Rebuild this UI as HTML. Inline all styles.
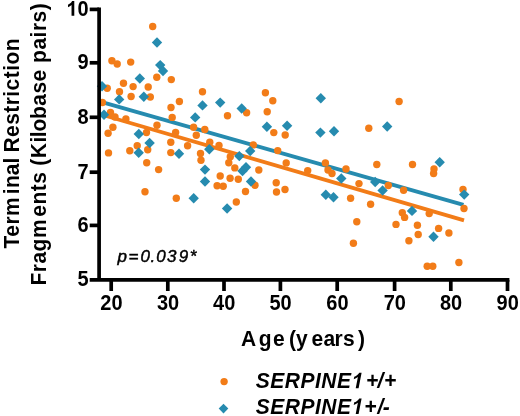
<!DOCTYPE html>
<html><head><meta charset="utf-8"><style>
html,body{margin:0;padding:0;background:#fff;width:520px;height:416px;overflow:hidden;}
svg{display:block;filter:blur(0.4px);}
text{font-family:"Liberation Sans",sans-serif;}
.b{font-weight:bold;font-size:21px;}
.t{font-weight:bold;font-size:20px;}
</style></head><body>
<svg width="520" height="416" viewBox="0 0 520 416">
<rect width="520" height="416" fill="#fff"/>
<line x1="102" y1="102.2" x2="463.5" y2="204.9" stroke="#268baf" stroke-width="3.8"/>
<line x1="102" y1="114.7" x2="464" y2="220.4" stroke="#f27c18" stroke-width="3.8"/>
<g fill="#f27c18"><circle cx="152.7" cy="26.5" r="3.7"/><circle cx="111.9" cy="60.7" r="3.7"/><circle cx="117.2" cy="64" r="3.7"/><circle cx="130.7" cy="62.1" r="3.7"/><circle cx="156.8" cy="77.2" r="3.7"/><circle cx="171.3" cy="79.6" r="3.7"/><circle cx="123.5" cy="83.3" r="3.7"/><circle cx="133.1" cy="86.6" r="3.7"/><circle cx="107.2" cy="88.2" r="3.7"/><circle cx="148.2" cy="87" r="3.7"/><circle cx="119.5" cy="91.8" r="3.7"/><circle cx="131.1" cy="96.5" r="3.7"/><circle cx="150.3" cy="97" r="3.7"/><circle cx="102.4" cy="102.5" r="3.7"/><circle cx="171" cy="107.5" r="3.7"/><circle cx="179.4" cy="101.5" r="3.7"/><circle cx="202.5" cy="91.8" r="3.7"/><circle cx="110.5" cy="112.5" r="3.7"/><circle cx="115" cy="117" r="3.7"/><circle cx="125.9" cy="119" r="3.7"/><circle cx="172.2" cy="117.4" r="3.7"/><circle cx="157" cy="125.2" r="3.7"/><circle cx="112.9" cy="127.3" r="3.7"/><circle cx="108.1" cy="133.3" r="3.7"/><circle cx="146.5" cy="132.5" r="3.7"/><circle cx="175.6" cy="132.4" r="3.7"/><circle cx="170.8" cy="142.3" r="3.7"/><circle cx="187.6" cy="145.8" r="3.7"/><circle cx="147.7" cy="149.7" r="3.7"/><circle cx="170.8" cy="152.6" r="3.7"/><circle cx="137.2" cy="145.7" r="3.7"/><circle cx="129.8" cy="150.8" r="3.7"/><circle cx="108.5" cy="152.9" r="3.7"/><circle cx="146.7" cy="162.7" r="3.7"/><circle cx="158.6" cy="169.6" r="3.7"/><circle cx="145" cy="191.8" r="3.7"/><circle cx="176.3" cy="198.2" r="3.7"/><circle cx="193.6" cy="127.2" r="3.7"/><circle cx="204.8" cy="129.5" r="3.7"/><circle cx="196.3" cy="135.2" r="3.7"/><circle cx="209.8" cy="142.3" r="3.7"/><circle cx="219" cy="145.5" r="3.7"/><circle cx="200.5" cy="153.5" r="3.7"/><circle cx="201" cy="160.3" r="3.7"/><circle cx="230.3" cy="156.8" r="3.7"/><circle cx="228.8" cy="162.7" r="3.7"/><circle cx="234.8" cy="167.9" r="3.7"/><circle cx="253.3" cy="144.9" r="3.7"/><circle cx="258.8" cy="170" r="3.7"/><circle cx="220.2" cy="176" r="3.7"/><circle cx="230.1" cy="178.2" r="3.7"/><circle cx="238.3" cy="179.2" r="3.7"/><circle cx="217.1" cy="185.8" r="3.7"/><circle cx="223.2" cy="186.2" r="3.7"/><circle cx="236.3" cy="202" r="3.7"/><circle cx="245.5" cy="191.5" r="3.7"/><circle cx="246.6" cy="112.8" r="3.7"/><circle cx="227.5" cy="115.8" r="3.7"/><circle cx="265.4" cy="92.8" r="3.7"/><circle cx="272.8" cy="100.8" r="3.7"/><circle cx="267.2" cy="111.8" r="3.7"/><circle cx="273.8" cy="132.6" r="3.7"/><circle cx="285.2" cy="135" r="3.7"/><circle cx="277.7" cy="150.6" r="3.7"/><circle cx="286.2" cy="162.9" r="3.7"/><circle cx="307.7" cy="170.6" r="3.7"/><circle cx="325.4" cy="162.9" r="3.7"/><circle cx="328" cy="170" r="3.7"/><circle cx="332" cy="173.5" r="3.7"/><circle cx="276.2" cy="182.7" r="3.7"/><circle cx="255" cy="185.2" r="3.7"/><circle cx="276.5" cy="192" r="3.7"/><circle cx="285" cy="189.5" r="3.7"/><circle cx="368.8" cy="128.2" r="3.7"/><circle cx="399.1" cy="101.5" r="3.7"/><circle cx="376.8" cy="164.5" r="3.7"/><circle cx="346" cy="169" r="3.7"/><circle cx="359" cy="183.6" r="3.7"/><circle cx="388.3" cy="185.5" r="3.7"/><circle cx="350.6" cy="198.2" r="3.7"/><circle cx="370.6" cy="204.3" r="3.7"/><circle cx="403.6" cy="190.3" r="3.7"/><circle cx="402.3" cy="212.8" r="3.7"/><circle cx="404.6" cy="217.4" r="3.7"/><circle cx="356.8" cy="221.7" r="3.7"/><circle cx="396" cy="224.4" r="3.7"/><circle cx="353.4" cy="243.2" r="3.7"/><circle cx="412.5" cy="164.5" r="3.7"/><circle cx="434" cy="169" r="3.7"/><circle cx="433.6" cy="173.5" r="3.7"/><circle cx="463" cy="189.5" r="3.7"/><circle cx="464" cy="208.5" r="3.7"/><circle cx="417.4" cy="225.3" r="3.7"/><circle cx="418.2" cy="234.5" r="3.7"/><circle cx="438.6" cy="228.4" r="3.7"/><circle cx="448.9" cy="233" r="3.7"/><circle cx="408.9" cy="240.7" r="3.7"/><circle cx="427.2" cy="266.3" r="3.7"/><circle cx="432.8" cy="266.3" r="3.7"/><circle cx="458.9" cy="262.5" r="3.7"/><circle cx="429.2" cy="213.6" r="3.7"/></g>
<g fill="#268baf"><path d="M157.0 37.3L162.2 42.5L157.0 47.7L151.8 42.5Z"/><path d="M160.2 59.9L165.4 65.1L160.2 70.3L155.0 65.1Z"/><path d="M163.0 65.8L168.2 71.0L163.0 76.2L157.8 71.0Z"/><path d="M139.8 73.3L145.0 78.5L139.8 83.7L134.6 78.5Z"/><path d="M102.0 81.0L107.2 86.2L102.0 91.4L96.8 86.2Z"/><path d="M143.8 91.6L149.0 96.8L143.8 102.0L138.6 96.8Z"/><path d="M119.2 94.2L124.4 99.4L119.2 104.6L114.0 99.4Z"/><path d="M104.0 109.6L109.2 114.8L104.0 120.0L98.8 114.8Z"/><path d="M138.8 128.8L144.0 134.0L138.8 139.2L133.6 134.0Z"/><path d="M149.6 137.8L154.8 143.0L149.6 148.2L144.4 143.0Z"/><path d="M138.7 147.5L143.9 152.7L138.7 157.9L133.5 152.7Z"/><path d="M179.0 148.6L184.2 153.8L179.0 159.0L173.8 153.8Z"/><path d="M202.5 100.2L207.7 105.4L202.5 110.6L197.3 105.4Z"/><path d="M220.2 97.4L225.4 102.6L220.2 107.8L215.0 102.6Z"/><path d="M241.7 103.3L246.9 108.5L241.7 113.7L236.5 108.5Z"/><path d="M195.2 112.2L200.4 117.4L195.2 122.6L190.0 117.4Z"/><path d="M209.3 144.0L214.5 149.2L209.3 154.4L204.1 149.2Z"/><path d="M239.3 150.9L244.5 156.1L239.3 161.3L234.1 156.1Z"/><path d="M246.0 162.1L251.2 167.3L246.0 172.5L240.8 167.3Z"/><path d="M242.5 165.8L247.7 171.0L242.5 176.2L237.3 171.0Z"/><path d="M250.2 145.8L255.4 151.0L250.2 156.2L245.0 151.0Z"/><path d="M205.0 164.4L210.2 169.6L205.0 174.8L199.8 169.6Z"/><path d="M205.0 176.3L210.2 181.5L205.0 186.7L199.8 181.5Z"/><path d="M251.0 176.3L256.2 181.5L251.0 186.7L245.8 181.5Z"/><path d="M193.7 193.0L198.9 198.2L193.7 203.4L188.5 198.2Z"/><path d="M227.1 203.3L232.3 208.5L227.1 213.7L221.9 208.5Z"/><path d="M320.8 93.0L326.0 98.2L320.8 103.4L315.6 98.2Z"/><path d="M266.9 121.6L272.1 126.8L266.9 132.0L261.7 126.8Z"/><path d="M287.1 120.6L292.3 125.8L287.1 131.0L281.9 125.8Z"/><path d="M320.4 127.4L325.6 132.6L320.4 137.8L315.2 132.6Z"/><path d="M334.0 126.0L339.2 131.2L334.0 136.4L328.8 131.2Z"/><path d="M387.2 121.3L392.4 126.5L387.2 131.7L382.0 126.5Z"/><path d="M341.3 173.3L346.5 178.5L341.3 183.7L336.1 178.5Z"/><path d="M375.2 176.8L380.4 182.0L375.2 187.2L370.0 182.0Z"/><path d="M382.6 185.3L387.8 190.5L382.6 195.7L377.4 190.5Z"/><path d="M325.8 189.6L331.0 194.8L325.8 200.0L320.6 194.8Z"/><path d="M333.5 192.0L338.7 197.2L333.5 202.4L328.3 197.2Z"/><path d="M439.7 157.0L444.9 162.2L439.7 167.4L434.5 162.2Z"/><path d="M464.2 189.4L469.4 194.6L464.2 199.8L459.0 194.6Z"/><path d="M412.0 205.7L417.2 210.9L412.0 216.1L406.8 210.9Z"/><path d="M433.5 231.5L438.7 236.7L433.5 241.9L428.3 236.7Z"/></g>
<g stroke="#000" stroke-width="3.7" fill="none">
<path d="M99.1 7.5V281.7M89.7 279.9H509.4"/>
<path d="M89.7 9.4H99"/><path d="M89.7 62.8H99"/><path d="M89.7 117.3H99"/><path d="M89.7 172.2H99"/><path d="M89.7 225.4H99"/>
<path d="M111.2 280V291"/><path d="M167.8 280V291"/><path d="M224.0 280V291"/><path d="M280.4 280V291"/><path d="M337.2 280V291"/><path d="M394.6 280V291"/><path d="M450.8 280V291"/><path d="M507.5 280V291"/>
</g>
<g class="t">
<path d="M811 0H530V1059Q376 915 167 846V1101Q277 1137 406 1237Q535 1338 583 1466H811Z" transform="translate(66.36,15.70) scale(0.00977,-0.00999)"/><text transform="translate(88.6,15.7) scale(1,1.06)" text-anchor="end">0</text><text transform="translate(88.6,69.1) scale(1,1.06)" text-anchor="end">9</text><text transform="translate(88.6,123.6) scale(1,1.06)" text-anchor="end">8</text><text transform="translate(88.6,178.5) scale(1,1.06)" text-anchor="end">7</text><text transform="translate(88.6,231.7) scale(1,1.06)" text-anchor="end">6</text><text transform="translate(88.6,285.9) scale(1,1.06)" text-anchor="end">5</text>
</g>
<g class="t" text-anchor="middle">
<text transform="translate(111.4,309.6) scale(1,1.06)">20</text><text transform="translate(168.0,309.6) scale(1,1.06)">30</text><text transform="translate(224.2,309.6) scale(1,1.06)">40</text><text transform="translate(280.6,309.6) scale(1,1.06)">50</text><text transform="translate(337.4,309.6) scale(1,1.06)">60</text><text transform="translate(394.8,309.6) scale(1,1.06)">70</text><text transform="translate(451.0,309.6) scale(1,1.06)">80</text><text transform="translate(507.7,309.6) scale(1,1.06)">90</text>
</g>
<text class="b" text-anchor="middle" style="letter-spacing:0.45px" transform="translate(18.8,143.2) rotate(-90) scale(1,1.03)" dx="0 0 0 0 2.5 0 -0.5 -0.5 0 -1.5">Terminal Restriction</text>
<text class="b" text-anchor="middle" style="letter-spacing:0.5px" transform="translate(46.1,145) rotate(-90) scale(1,1.03)" dx="0.8 0 0 0 0 2.2 0 0 0 0 -0.4 0 0 -1.2 -0.4 -1.0">Fragments (Kilobase pairs)</text>
<text class="b" transform="translate(0,345.6) scale(1,1.03)" x="240.9 258.8 273.0 282.0 288.9 295.9 311.4 323.5 334.5 342.9 358.1" y="0">Age (years)</text>
<text style="font-style:italic;font-size:17px" stroke="#000" stroke-width="0.45" x="117.5 128.5 140.5 150.4 156.3 167.0 178.8 189.7" y="262.4">p=0.039*</text>
<circle cx="224.1" cy="381.6" r="3.7" fill="#f27c18"/>
<path d="M223.5 403.8L228.3 408.6L223.5 413.4L218.7 408.6Z" fill="#268baf"/>
<text class="b" style="font-style:italic" transform="translate(0,388.2) scale(1,1.06)" x="255.70 270.21 284.72 300.39 314.90 321.23 336.90 365.90 377.50 384.00" y="0">SERPINE+/+</text><path d="M811 0H530V1059Q376 915 167 846V1101Q277 1137 406 1237Q535 1338 583 1466H811Z" transform="translate(351.41,388.20) scale(0.01025,-0.01049) matrix(1,0,0.2,1,-110,0)"/>
<text class="b" style="font-style:italic" transform="translate(0,413.9) scale(1,1.06)" x="255.70 270.21 284.72 300.39 314.90 321.23 336.90 364.20 377.50 382.70" y="0">SERPINE+/-</text><path d="M811 0H530V1059Q376 915 167 846V1101Q277 1137 406 1237Q535 1338 583 1466H811Z" transform="translate(351.41,413.90) scale(0.01025,-0.01049) matrix(1,0,0.2,1,-110,0)"/>
</svg>
</body></html>
